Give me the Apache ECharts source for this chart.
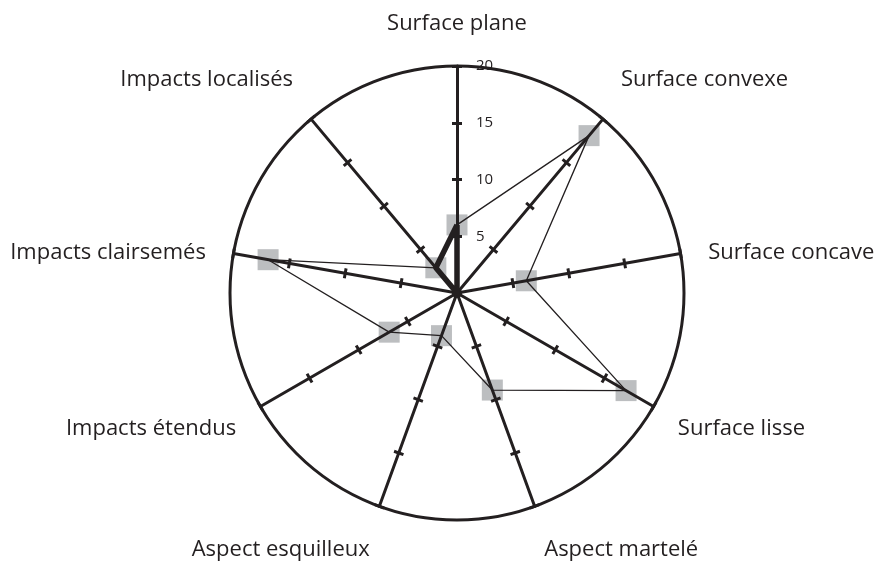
<!DOCTYPE html>
<html>
<head>
<meta charset="utf-8">
<script src="https://cdn.jsdelivr.net/npm/echarts@6/dist/echarts.min.js"></script>
<style>html,body{margin:0;padding:0;background:#fff}#c{width:878px;height:563px}</style>
</head>
<body>
<div id="c"></div>
<script>
// Categories in ECharts radar order (counter-clockwise from the top)
var categories = ['Surface plane', 'Impacts localisés', 'Impacts clairsemés', 'Impacts étendus',
  'Aspect esquilleux', 'Aspect martelé', 'Surface lisse', 'Surface concave', 'Surface convexe'];
var values = [6.0, 2.9, 16.9, 6.9, 4.0, 9.1, 17.2, 6.2, 18.1];
var axisMax = 20;
var tickLabels = ['', '5', '10', '15', '20'];
// vertical nudges of the category names (pixels, + = down)
var nameShift = [0, -18, 4, 8, 17, 17, 8, 4, -18];

var INK = '#231f20';
var FONT = '"Open Sans", sans-serif';
var NAME_SIZE = 22;

var rich = {};
nameShift.forEach(function (s) {
  var L = Math.max(2, Math.abs(s) * 2);
  rich['h' + L] = { lineHeight: L, fontSize: NAME_SIZE, fontFamily: FONT, color: INK };
});
function nameFormatter(name) {
  var i = categories.indexOf(name);
  var s = nameShift[i];
  if (!s) return name;
  var k = 'h' + Math.max(2, Math.abs(s) * 2);
  return s < 0 ? '{' + k + '|' + name + '}\n{' + k + '| }' : '{' + k + '| }\n{' + k + '|' + name + '}';
}

var indicatorA = categories.map(function (c, i) {
  var o = { text: c, max: axisMax, min: 0 };
  if (i === 0) o.nameGap = 31;
  return o;
});
var indicatorB = categories.map(function (c, i) {
  var o = { text: c, max: axisMax, min: 0 };
  if (i === 0) {
    o.axisLabel = {
      show: true, color: INK, fontSize: 15, fontFamily: FONT, margin: -19, align: 'left',
      formatter: function (v) { return tickLabels[Math.round(v / 5)]; }
    };
  }
  return o;
});

var thickEdge = values.map(function (v, i) { return i < 2 ? v : '-'; });

var common = { center: [457, 293], radius: 227, startAngle: 90, shape: 'circle', splitNumber: 4 };

var option = {
  animation: false,
  radar: [
    Object.assign({}, common, {
      indicator: indicatorA,
      nameGap: 28,
      axisName: { color: INK, fontSize: NAME_SIZE, fontFamily: FONT, formatter: nameFormatter, rich: rich },
      axisLine: { lineStyle: { color: INK, width: 3 } },
      axisTick: { show: true, length: 5, lineStyle: { color: INK, width: 3 } },
      splitLine: { lineStyle: { color: ['rgba(0,0,0,0)', 'rgba(0,0,0,0)', 'rgba(0,0,0,0)', 'rgba(0,0,0,0)', INK], width: 3 } },
      splitArea: { show: false }
    }),
    Object.assign({}, common, {
      indicator: indicatorB,
      axisName: { show: false },
      axisLine: { show: false },
      axisTick: { show: true, length: -5, lineStyle: { color: INK, width: 3 } },
      splitLine: { show: false },
      splitArea: { show: false }
    })
  ],
  series: [
    {
      type: 'radar', radarIndex: 0, z: -1, silent: true,
      symbol: 'rect', symbolSize: 21,
      itemStyle: { color: '#bcbec0' },
      lineStyle: { width: 0, opacity: 0 },
      data: [{ value: values }]
    },
    {
      type: 'radar', radarIndex: 0, z: 3, silent: true,
      symbol: 'none',
      lineStyle: { color: INK, width: 1.3 },
      data: [{ value: values }]
    },
    {
      type: 'radar', radarIndex: 0, z: 4, silent: true,
      symbol: 'none',
      lineStyle: { color: INK, width: 5.5 },
      data: [{ value: thickEdge }]
    }
  ]
};
echarts.init(document.getElementById('c')).setOption(option);
</script>
</body>
</html>
